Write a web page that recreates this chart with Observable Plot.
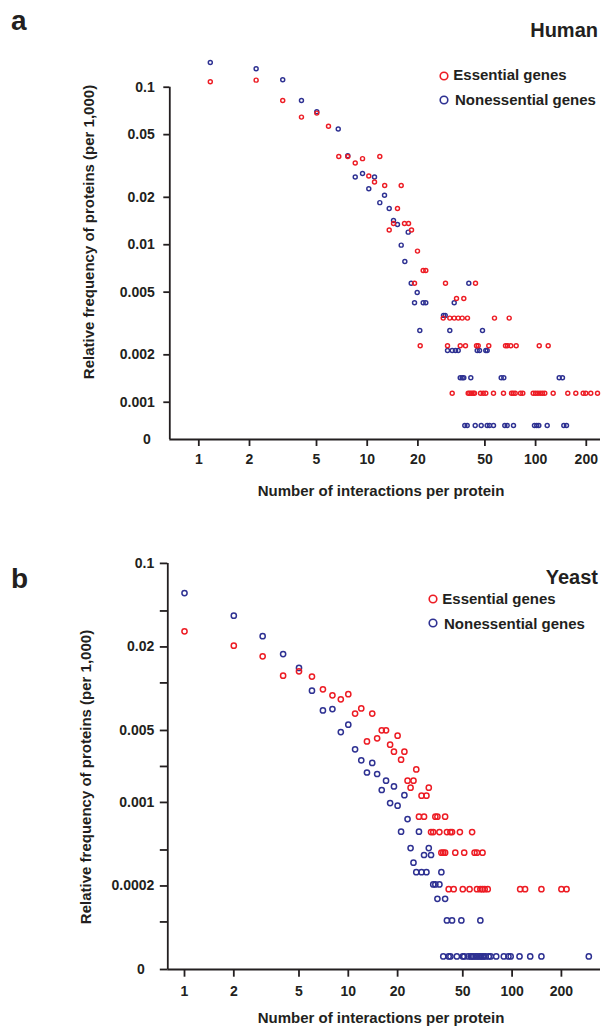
<!DOCTYPE html>
<html>
<head>
<meta charset="utf-8">
<script src="https://cdn.jsdelivr.net/npm/d3@7"></script>
<script src="https://cdn.jsdelivr.net/npm/@observablehq/plot@0.6"></script>
<style>
  html, body { margin: 0; padding: 0; background: #ffffff; }
  #chart { position: relative; width: 601px; height: 1028px; overflow: hidden;
           font-family: "Liberation Sans", Arial, Helvetica, sans-serif; font-weight: bold; color: #231f20; }
  .t { position: absolute; white-space: nowrap; }
  .panel { position: absolute; left: 0; }
</style>
</head>
<body>
<div id="chart"></div>
<script>
// ---------------- DATA ----------------
// x tick values / labels (interactions per protein)
const xTicks = [1, 2, 5, 10, 20, 50, 100, 200];
const xLabels = ["1", "2", "5", "10", "20", "50", "100", "200"];

// Human panel (a)
const humanXDomain = [0.6725, 242.9];
const humanYDomain = [0.00058, 0.159];
const humanYTicks = [0.1, 0.05, 0.02, 0.01, 0.005, 0.002, 0.001];
const humanYLabels = ["0.1", "0.05", "0.02", "0.01", "0.005", "0.002", "0.001"];
const humanZeroTick = [0.00058];

// [interactions, relative frequency]
const humanEssential = [
  [1.17,0.1084],[2.19,0.1109],[3.15,0.0824],[4.07,0.0646],[5.02,0.0685],[5.89,0.0566],
  [6.78,0.0363],[7.67,0.0363],[8.49,0.0330],[9.38,0.0352],[10.22,0.0273],[11.05,0.0250],
  [11.88,0.0363],[12.70,0.0238],[13.51,0.01242],[14.33,0.01365],[15.13,0.0170],[15.92,0.0238],
  [16.65,0.01365],[17.60,0.01365],[18.33,0.01242],[19.10,0.00570],[19.89,0.00911],[20.64,0.002284],
  [21.50,0.00687],[22.28,0.00687],[28.27,0.00342],[29.17,0.00570],[29.99,0.002284],[30.94,0.00342],
  [31.97,0.001142],[32.86,0.00342],[33.91,0.00456],[34.71,0.00342],[35.68,0.002284],[36.66,0.00342],
  [37.47,0.00456],[38.34,0.002284],[39.40,0.00342],[39.78,0.001142],[40.66,0.001142],[41.62,0.001142],
  [42.60,0.001142],[43.37,0.001142],[43.97,0.00570],[44.58,0.002284],[45.62,0.002284],[47.09,0.001142],
  [48.86,0.001142],[50.61,0.001142],[52.72,0.002284],[56.23,0.001142],[57.00,0.00342],[64.47,0.001142],
  [66.28,0.002284],[68.09,0.002284],[69.69,0.00342],[71.23,0.002284],[71.93,0.001142],[73.62,0.001142],
  [75.67,0.001142],[76.70,0.002284],[81.37,0.001142],[83.95,0.001142],[96.76,0.001142],[99.86,0.001142],
  [103.1,0.001142],[105.1,0.002284],[106.5,0.001142],[109.9,0.001142],[113.4,0.001142],[118.8,0.002284],
  [127.2,0.001142],[155.3,0.001142],[173.3,0.001142],[191.7,0.001142],[198.6,0.001142],[212.7,0.001142],
  [233.2,0.001142]
];
const humanNonessential = [
  [1.17,0.1437],[2.19,0.1311],[3.15,0.1116],[4.07,0.0824],[5.02,0.0699],[6.73,0.0543],
  [7.67,0.0367],[8.49,0.0269],[9.38,0.0283],[10.22,0.0227],[11.05,0.0269],[11.88,0.0185],
  [12.67,0.0206],[13.51,0.0170],[14.33,0.01427],[15.13,0.01346],[15.92,0.00994],[16.73,0.00783],
  [17.52,0.01202],[18.25,0.00570],[19.10,0.00428],[19.81,0.00498],[20.53,0.002857],[21.50,0.00428],
  [22.28,0.00428],[28.39,0.00356],[29.06,0.00356],[29.99,0.002133],[30.94,0.002857],[31.97,0.002133],
  [32.86,0.00428],[33.44,0.002133],[34.71,0.002133],[35.68,0.001430],[36.66,0.001430],[37.47,0.001430],
  [37.98,0.000712],[39.25,0.000712],[40.12,0.00570],[41.23,0.001430],[43.79,0.000712],[45.01,0.002133],
  [46.45,0.002133],[47.53,0.000712],[48.38,0.002857],[50.61,0.002133],[51.58,0.002133],[51.58,0.000712],
  [53.23,0.000712],[56.23,0.000712],[62.48,0.001430],[64.74,0.001430],[65.63,0.000712],[67.83,0.000712],
  [73.92,0.000712],[98.5,0.000712],[101.6,0.000712],[104.5,0.000712],[117.2,0.000712],[138.1,0.001430],
  [144.4,0.001430],[147.1,0.000712],[152.6,0.000712]
];

// Yeast panel (b)
const yeastXDomain = [0.7907, 346.5];
const yeastYDomain = [0.00004, 0.1];
const yeastYTicks = [0.1, 0.04, 0.02, 0.01, 0.004, 0.002, 0.001, 0.0004, 0.0002, 0.0001];
const yeastYLabels = ["0.1", "", "0.02", "", "0.005", "", "0.001", "", "0.0002", ""];
const yeastZeroTick = [0.00004];

const yeastEssential = [
  [1,0.0270],[2,0.0205],[3,0.01668],[4,0.01150],[5,0.01249],[6,0.01130],[7,0.00883],[8,0.00787],
  [9,0.00729],[10,0.00805],[11,0.00554],[12,0.00612],[13,0.00324],[14,0.00554],[15,0.00344],[16,0.00401],
  [17,0.00401],[18,0.00304],[19,0.00266],[20,0.00362],[21,0.00228],[22,0.00266],[23,0.00152],[24,0.00133],
  [25,0.00152],[26,0.00189],[27,0.00076],[28,0.00114],[29,0.00076],[30,0.00114],[31,0.00133],[32,0.000565],
  [33,0.000565],[34,0.00076],[35,0.00076],[36,0.000565],[37,0.00038],[38,0.00038],[39,0.00038],[39,0.00076],
  [40,0.000565],[41,0.000188],[42,0.000565],[43,0.000565],[44,0.000188],[45,0.00038],[48,0.000565],[50,0.000188],
  [51,0.00038],[55,0.000188],[57,0.000565],[59,0.00038],[61,0.00038],[61,0.000188],[64,0.000188],[66,0.00038],
  [66,0.000188],[68,0.000188],[71,0.000188],[112,0.000188],[120,0.000188],[151,0.000188],[200,0.000188],[215,0.000188]
];
const yeastNonessential = [
  [1,0.0565],[2,0.0365],[3,0.0246],[4,0.01743],[5,0.01336],[6,0.00861],[7,0.00589],[8,0.00604],
  [9,0.00388],[10,0.00447],[11,0.00278],[12,0.00225],[13,0.00178],[14,0.00214],[15,0.00173],[16,0.00127],
  [17,0.00152],[18,0.000988],[19,0.00136],[20,0.000939],[21,0.000569],[22,0.00115],[23,0.000726],[24,0.000415],
  [25,0.000313],[26,0.000261],[27,0.000569],[28,0.000261],[29,0.000363],[30,0.000261],[31,0.000415],[32,0.000363],
  [33,0.000206],[34,0.000206],[35,0.000156],[36,0.000206],[37,0.000261],[38,0.0000515],[39,0.000156],[40,0.000103],
  [41,0.0000515],[42,0.0000515],[43,0.000103],[46,0.0000515],[49,0.000103],[50,0.0000515],[51,0.0000515],[54,0.0000515],
  [56,0.0000515],[57,0.0000515],[58,0.0000515],[60,0.0000515],[61,0.0000515],[63,0.0000515],[64,0.0000515],[64,0.000103],
  [66,0.0000515],[67,0.0000515],[69,0.0000515],[72,0.0000515],[74,0.0000515],[80,0.0000515],[89,0.0000515],[95,0.0000515],
  [98,0.0000515],[111,0.0000515],[129,0.0000515],[151,0.0000515],[294,0.0000515]
];

const seriesNames = ["Essential genes", "Nonessential genes"];
const panelTitles = ["Human", "Yeast"];
const panelLetters = ["a", "b"];
const zeroLabel = "0";
const xTitle = "Number of interactions per protein";
const yTitle = "Relative frequency of proteins (per 1,000)";

// ---------------- STYLE ----------------
const RED = "#ed1c24";
const BLUE = "#2e3192";
const INK = "#231f20";
const FONT = '"Liberation Sans", Arial, Helvetica, sans-serif';

const chart = document.getElementById("chart");

function panel(o) {
  const yMap = new Map(o.yTicks.map((d, i) => [d, o.yLabels[i]]));
  const xMap = new Map(xTicks.map((d, i) => [d, xLabels[i]]));
  const txt = {fill: INK, fontSize: 14, fontWeight: "bold", fontFamily: FONT};
  const axisOpts = {tickFormat: () => "", stroke: INK, strokeWidth: 1.8, label: null};
  return Plot.plot({
    width: 601,
    height: o.height,
    marginLeft: o.ml, marginRight: 1, marginTop: o.mt, marginBottom: o.mb,
    x: {type: "log", domain: o.xDomain},
    y: {type: "log", domain: o.yDomain},
    style: {background: "transparent", fontFamily: FONT, fontSize: "14px", fontWeight: "bold", color: INK, overflow: "visible"},
    marks: [
      // axis lines
      Plot.ruleX([o.xDomain[0]], {y1: () => o.yTicks[0], y2: () => o.yDomain[0], stroke: INK, strokeWidth: 1.8}),
      Plot.ruleY([o.yDomain[0]], {x1: () => o.xDomain[0], x2: () => o.xDomain[1], stroke: INK, strokeWidth: 1.8}),
      // tick marks
      Plot.axisY(o.yTicks, {...axisOpts, tickSize: o.yTickSize}),
      ...(o.zeroTickSize > 0 ? [Plot.axisY(o.zeroTick, {...axisOpts, tickSize: o.zeroTickSize})] : []),
      Plot.axisX(xTicks, {...axisOpts, tickSize: o.xTickSize}),
      // tick labels
      Plot.text(o.yTicks, {y: d => d, text: d => yMap.get(d), frameAnchor: "left", textAnchor: "end",
        dx: -(o.yTickSize + o.yTickPad), ...txt}),
      Plot.text(o.zeroTick, {y: d => d, text: () => zeroLabel, frameAnchor: "left", textAnchor: "end",
        dx: -o.zeroOffset, ...txt}),
      Plot.text(xTicks, {x: d => d, text: d => xMap.get(d), frameAnchor: "bottom", lineAnchor: "top",
        dy: o.xTickSize + o.xTickPad, ...txt}),
      // data
      Plot.dot(o.non, {x: d => d[0], y: d => d[1], r: o.r, stroke: BLUE, strokeWidth: o.sw, fill: "none"}),
      Plot.dot(o.ess, {x: d => d[0], y: d => d[1], r: o.r, stroke: RED, strokeWidth: o.sw, fill: "none"})
    ]
  });
}

function place(node, top) {
  const wrap = document.createElement("div");
  wrap.className = "panel";
  wrap.style.top = top + "px";
  wrap.appendChild(node);
  chart.appendChild(wrap);
}

place(panel({
  height: 520, ml: 169.3, mt: 55, mb: 81,
  xDomain: humanXDomain, yDomain: humanYDomain, yTicks: humanYTicks, yLabels: humanYLabels,
  zeroTick: humanZeroTick, zeroTickSize: 0, zeroOffset: 19,
  yTickSize: 6, yTickPad: 9, xTickSize: 7, xTickPad: 8,
  ess: humanEssential, non: humanNonessential, r: 2, sw: 1.45
}), 0);

place(panel({
  height: 508, ml: 167.3, mt: 42.9, mb: 59,
  xDomain: yeastXDomain, yDomain: yeastYDomain, yTicks: yeastYTicks, yLabels: yeastYLabels,
  zeroTick: yeastZeroTick, zeroTickSize: 7.5, zeroOffset: 23,
  yTickSize: 7.5, yTickPad: 6, xTickSize: 7.7, xTickPad: 9,
  ess: yeastEssential, non: yeastNonessential, r: 2.6, sw: 1.5
}), 520);

// ---------------- TEXT ----------------
function addText(txt, x, baseline, size, anchor) {
  const d = document.createElement("div");
  d.className = "t";
  d.textContent = txt;
  d.style.fontSize = size + "px";
  d.style.lineHeight = size + "px";
  d.style.top = (baseline - 0.8465 * size) + "px";
  if (anchor === "end") d.style.right = (601 - x) + "px";
  else if (anchor === "middle") { d.style.left = x + "px"; d.style.transform = "translateX(-50%)"; }
  else d.style.left = x + "px";
  chart.appendChild(d);
}
function addRotated(txt, cx, cy, size) {
  const d = document.createElement("div");
  d.className = "t";
  d.textContent = txt;
  d.style.fontSize = size + "px";
  d.style.lineHeight = size + "px";
  d.style.left = cx + "px";
  d.style.top = cy + "px";
  d.style.transform = "translate(-50%, -50%) rotate(-90deg)";
  chart.appendChild(d);
}
function addLegend(color, cx, cy, label, tx, baseline) {
  const ns = "http://www.w3.org/2000/svg";
  const s = document.createElementNS(ns, "svg");
  s.setAttribute("width", 14); s.setAttribute("height", 14);
  s.style.position = "absolute"; s.style.left = (cx - 7) + "px"; s.style.top = (cy - 7) + "px";
  const c = document.createElementNS(ns, "circle");
  c.setAttribute("cx", 7); c.setAttribute("cy", 7); c.setAttribute("r", 3.8);
  c.setAttribute("fill", "none"); c.setAttribute("stroke", color); c.setAttribute("stroke-width", 1.6);
  s.appendChild(c);
  chart.appendChild(s);
  addText(label, tx, baseline, 15, "start");
}

// panel a
addText(panelLetters[0], 11, 31, 28, "start");
addText(panelTitles[0], 598, 37, 20, "end");
addLegend(RED, 444.3, 75.7, seriesNames[0], 453.3, 80);
addLegend(BLUE, 444.3, 100, seriesNames[1], 455, 105);
addRotated(yTitle, 87.5, 232.3, 15);
addText(xTitle, 381, 496, 15, "middle");

// panel b
addText(panelLetters[1], 11, 589, 28, "start");
addText(panelTitles[1], 598, 584, 20, "end");
addLegend(RED, 432.7, 599.3, seriesNames[0], 442.3, 603.5);
addLegend(BLUE, 432.7, 622.7, seriesNames[1], 444, 628.3);
addRotated(yTitle, 85, 776.5, 15);
addText(xTitle, 381, 1023, 15, "middle");
</script>
</body>
</html>
